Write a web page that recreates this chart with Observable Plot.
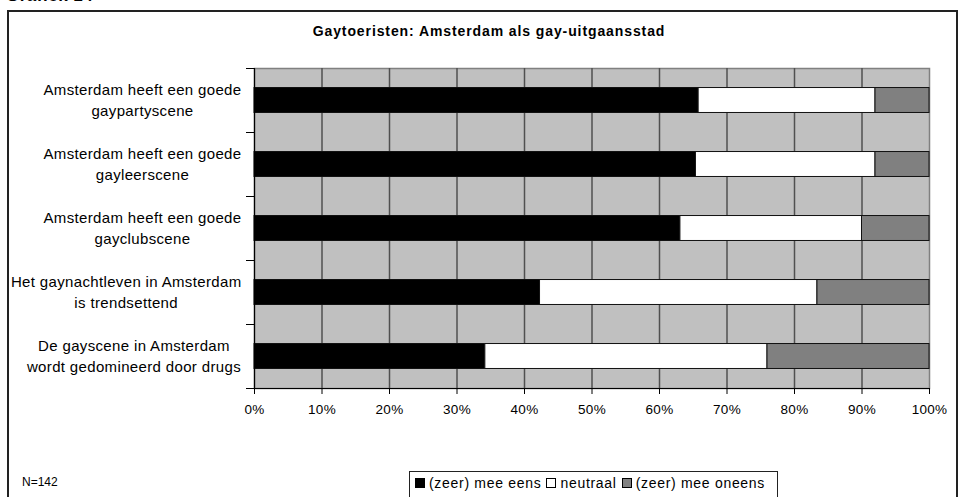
<!DOCTYPE html>
<html><head><meta charset="utf-8">
<script src="https://cdn.jsdelivr.net/npm/d3@7"></script>
<script src="https://cdn.jsdelivr.net/npm/@observablehq/plot@0.6"></script>
<style>
body{margin:0;background:#fff;font-family:"Liberation Sans",Arial,sans-serif;}
#wrap{position:relative;width:961px;height:497px;overflow:hidden;background:#fff;}
#frame{position:absolute;left:7px;top:10px;width:951px;height:520px;border:2px solid #222;box-sizing:border-box;}
#grafiek{position:absolute;left:6px;top:-14px;font-weight:bold;font-size:17px;color:#000;letter-spacing:0.5px;}
#title{position:absolute;left:489px;top:23px;transform:translateX(-50%);font-weight:bold;font-size:14px;letter-spacing:0.9px;white-space:nowrap;color:#000;}
#chart{position:absolute;left:0;top:0;}
#n{position:absolute;left:22px;top:475px;font-size:12px;color:#000;}
#legend{position:absolute;left:409px;top:471px;width:369px;height:40px;border:1px solid #222;box-sizing:border-box;font-size:14px;letter-spacing:0.7px;padding:3px 0 0 5px;white-space:nowrap;color:#000;}
.sw{display:inline-block;width:8px;height:8px;border:1px solid #000;margin-right:4px;vertical-align:0px;}
.it{margin-right:5px;}
</style>
</head><body>
<div id="wrap">
  <div id="grafiek">Grafiek 14</div>
  <div id="frame"></div>
  <div id="title">Gaytoeristen: Amsterdam als gay-uitgaansstad</div>
  <div id="chart"></div>
  <div id="n">N=142</div>
  <div id="legend"></div>
</div>
<script>
const categories = [
  "Amsterdam heeft een goede\ngaypartyscene",
  "Amsterdam heeft een goede\ngayleerscene",
  "Amsterdam heeft een goede\ngayclubscene",
  "Het gaynachtleven in Amsterdam\nis trendsettend",
  "De gayscene in Amsterdam\nwordt gedomineerd door drugs"
];
const seriesNames = ["(zeer) mee eens", "neutraal", "(zeer) mee oneens"];
const meeEens = [65.8, 65.4, 63.1, 42.3, 34.2];
const neutraal = [26.2, 26.6, 26.9, 41.1, 41.8];
const meeOneens = [8.0, 8.0, 10.0, 16.6, 24.0];
const xTicks = [0, 10, 20, 30, 40, 50, 60, 70, 80, 90, 100];
const seriesColors = ["#000000", "#ffffff", "#808080"];

const seriesValues = [meeEens, neutraal, meeOneens];
const rows = [];
categories.forEach((c, i) => {
  let acc = 0;
  seriesValues.forEach((vals, s) => {
    rows.push({i, series: seriesNames[s], x1: acc, x2: acc + vals[i]});
    acc += vals[i];
  });
});
const idx = categories.map((c, i) => i);
const bounds = [-0.5, ...idx.map(i => i + 0.5)];
const half = 0.195;

const chart = Plot.plot({
  width: 961, height: 440,
  marginLeft: 254, marginRight: 32, marginTop: 68, marginBottom: 52,
  style: {fontFamily: '"Liberation Sans", Arial, sans-serif', background: "transparent", color: "#000"},
  x: {domain: [0, 100], label: null},
  y: {domain: [4.5, -0.5], label: null},
  color: {domain: seriesNames, range: seriesColors},
  marks: [
    Plot.frame({fill: "#c0c0c0", stroke: "#808080", strokeWidth: 1.5}),
    Plot.ruleX(xTicks.slice(1, -1), {stroke: "#505050", strokeWidth: 1.5}),
    Plot.rectX(rows, {x1: "x1", x2: "x2", y1: d => d.i - half, y2: d => d.i + half, fill: "series", stroke: "#111", strokeWidth: 1}),
    Plot.ruleX([0], {stroke: "#000", strokeWidth: 1.2}),
    Plot.ruleY([4.5], {stroke: "#000", strokeWidth: 1.2}),
    Plot.axisY(bounds, {tickSize: 8, tickFormat: () => "", stroke: "#000", label: null}),
    Plot.axisX(xTicks, {tickSize: 6, tickPadding: 10, tickFormat: d => d + "%", fontSize: 13.5, stroke: "#000", label: null}),
    Plot.axisY(idx, {tickSize: 0, tickPadding: 13, dy: -2, tickFormat: i => categories[i], fontSize: 15, lineHeight: 1.42, label: null})
  ]
});
document.getElementById("chart").appendChild(chart);

chart.querySelectorAll('g[aria-label="x-axis tick label"] text').forEach(t => t.setAttribute("letter-spacing", "0.3"));
// center lines of each multi-line y label within its right-aligned block
chart.querySelectorAll('g[aria-label="y-axis tick label"] text').forEach(t => {
  t.setAttribute("letter-spacing", "0.35");
  const w = t.getBBox().width;
  t.setAttribute("text-anchor", "middle");
  const spans = t.querySelectorAll("tspan");
  if (spans.length) spans.forEach(s => s.setAttribute("x", -w / 2));
  else t.setAttribute("x", -w / 2);
});

const leg = document.getElementById("legend");
seriesNames.forEach((name, s) => {
  const it = document.createElement("span");
  it.className = "it";
  const sw = document.createElement("span");
  sw.className = "sw";
  sw.style.background = seriesColors[s];
  it.appendChild(sw);
  it.appendChild(document.createTextNode(name));
  leg.appendChild(it);
});
</script>
</body></html>
